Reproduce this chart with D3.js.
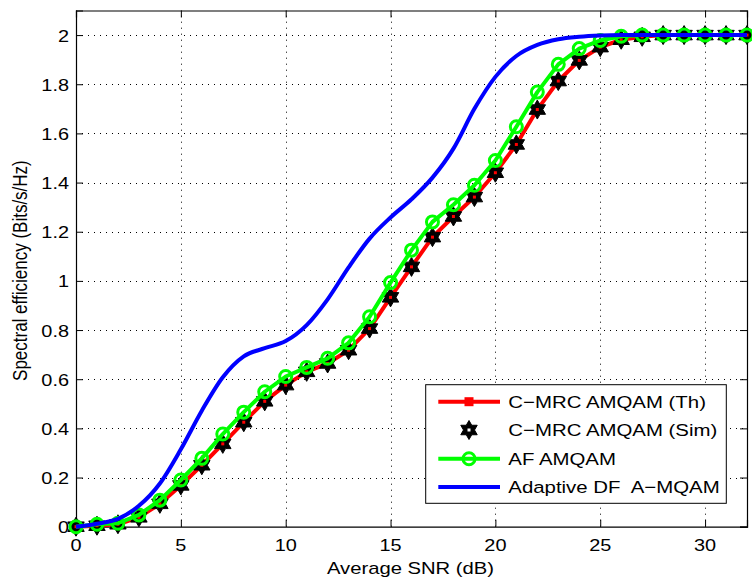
<!DOCTYPE html>
<html><head><meta charset="utf-8">
<script src="https://cdn.jsdelivr.net/npm/d3@7"></script>
<style>
body{margin:0;background:#fff}
text{font-family:"Liberation Sans",Arial,Helvetica,sans-serif;fill:#000}
</style>
</head><body>
<svg id="chart" width="752" height="581"></svg>
<script>
// ---------- data ----------
const snr = d3.range(0, 33);
const thValues  = [0,0.004,0.01,0.038,0.093,0.168,0.25,0.337,0.425,0.51,0.576,0.63,0.664,0.718,0.806,0.933,1.057,1.178,1.262,1.341,1.44,1.555,1.697,1.813,1.897,1.951,1.981,1.993,2,2,2,2,2];
const simValues = [0,0.004,0.01,0.038,0.093,0.168,0.25,0.337,0.425,0.51,0.576,0.63,0.664,0.718,0.806,0.933,1.057,1.178,1.262,1.341,1.44,1.555,1.697,1.813,1.897,1.951,1.981,1.993,2,2,2,2,2];
const afValues  = [0,0.01,0.014,0.048,0.108,0.19,0.278,0.377,0.466,0.549,0.611,0.648,0.685,0.748,0.854,0.993,1.125,1.24,1.31,1.389,1.49,1.627,1.768,1.881,1.945,1.978,1.995,2,2,2,2,2,2];
const dfValues  = [0,0.012,0.032,0.085,0.176,0.315,0.472,0.608,0.693,0.726,0.755,0.82,0.925,1.055,1.172,1.258,1.332,1.42,1.538,1.70,1.83,1.915,1.96,1.983,1.993,1.998,2,2,2,2,2,2,2];
const xTicks = [0,5,10,15,20,25,30];
const yTicks = [0,0.2,0.4,0.6,0.8,1,1.2,1.4,1.6,1.8,2];
const legendLabels = ["C\u2212MRC AMQAM (Th)","C\u2212MRC AMQAM (Sim)","AF AMQAM","Adaptive DF  A\u2212MQAM"];
const xLabel = "Average SNR (dB)";
const yLabel = "Spectral efficiency (Bits/s/Hz)";

// ---------- layout ----------
const L = 76, R = 747, T = 10.5, B = 526.7;
const FS = 17, SX = 1.17;
const svg = d3.select("#chart");
const x = d3.scaleLinear().domain([0, 32]).range([L, R]);
const y = d3.scaleLinear().domain([0, 2.1]).range([B, T]);

// grid
const grid = svg.append("g").attr("stroke", "#000").attr("stroke-width", 1).attr("stroke-dasharray", "1,5");
grid.selectAll("line.gx").data(xTicks.filter(d => d > 0)).join("line")
  .attr("x1", d => Math.round(x(d)) + 0.5).attr("x2", d => Math.round(x(d)) + 0.5)
  .attr("y1", B).attr("y2", T);
grid.selectAll("line.gy").data(yTicks.filter(d => d > 0)).join("line")
  .attr("y1", d => Math.round(y(d)) + 0.5).attr("y2", d => Math.round(y(d)) + 0.5)
  .attr("x1", L).attr("x2", R);

// axes (MATLAB style: inward ticks on all sides), labels drawn separately
const axB = svg.append("g").attr("transform", `translate(0,${B})`)
  .call(d3.axisBottom(x).tickValues(xTicks).tickSize(-7).tickFormat(""));
const axT = svg.append("g").attr("transform", `translate(0,${T})`)
  .call(d3.axisTop(x).tickValues(xTicks).tickSize(-7).tickFormat(""));
const axL = svg.append("g").attr("transform", `translate(${L},0)`)
  .call(d3.axisLeft(y).tickValues(yTicks).tickSize(-7).tickFormat(""));
const axR = svg.append("g").attr("transform", `translate(${R},0)`)
  .call(d3.axisRight(y).tickValues(yTicks).tickSize(-7).tickFormat(""));
[axB, axT, axL, axR].forEach(a => {
  a.select(".domain").attr("stroke", "#000").attr("stroke-width", 1.2);
  a.selectAll(".tick line").attr("stroke", "#000");
});
const fmtY = d => String(+d.toFixed(1));
svg.append("g").selectAll("text").data(xTicks).join("text")
  .attr("transform", d => `translate(${x(d)},${B + 24}) scale(${SX},1)`)
  .attr("text-anchor", "middle").attr("font-size", FS).text(d => d);
svg.append("g").selectAll("text").data(yTicks).join("text")
  .attr("transform", d => `translate(${L - 7},${y(d) + 6.5}) scale(${SX},1)`)
  .attr("text-anchor", "end").attr("font-size", FS).text(fmtY);

// ---------- series ----------
const lineGen = d3.line().x((d, i) => x(snr[i])).y(d => y(d));
const smooth = d3.line().x((d, i) => x(snr[i])).y(d => y(d)).curve(d3.curveMonotoneX);

function hexagram(r) {
  const pts = [];
  for (let i = 0; i < 12; i++) {
    const a = -Math.PI / 2 + i * Math.PI / 6;
    const rr = i % 2 === 0 ? r : r / Math.sqrt(3);
    pts.push([rr * Math.cos(a), rr * Math.sin(a)]);
  }
  return "M" + pts.map(p => p.join(",")).join("L") + "Z";
}

// C-MRC Th (red, squares)
svg.append("path").datum(thValues).attr("d", lineGen)
  .attr("fill", "none").attr("stroke", "#ff0000").attr("stroke-width", 4).attr("stroke-linejoin", "round");
svg.append("g").selectAll("rect").data(thValues).join("rect")
  .attr("x", (d, i) => x(snr[i]) - 4).attr("y", d => y(d) - 4)
  .attr("width", 8).attr("height", 8).attr("fill", "#ff0000");

// C-MRC Sim (black hexagrams)
const simG = svg.append("g");
simG.selectAll("path").data(simValues).join("path")
  .attr("d", hexagram(9.5))
  .attr("transform", (d, i) => `translate(${x(snr[i])},${y(d)})`)
  .attr("fill", "#000").attr("stroke", "#000").attr("stroke-width", 1).attr("stroke-linejoin", "miter");
simG.selectAll("rect").data(simValues).join("rect")
  .attr("x", (d, i) => x(snr[i]) - 1.5).attr("y", d => y(d) - 1.5)
  .attr("width", 3).attr("height", 3).attr("fill", "#ff0000");

// AF (green, circles)
svg.append("path").datum(afValues).attr("d", lineGen)
  .attr("fill", "none").attr("stroke", "#00ff00").attr("stroke-width", 4).attr("stroke-linejoin", "round");
svg.append("g").selectAll("circle").data(afValues).join("circle")
  .attr("cx", (d, i) => x(snr[i])).attr("cy", d => y(d)).attr("r", 6)
  .attr("fill", "none").attr("stroke", "#00ff00").attr("stroke-width", 3);

// Adaptive DF (blue)
svg.append("path").datum(dfValues).attr("d", smooth)
  .attr("fill", "none").attr("stroke", "#0000ff").attr("stroke-width", 4);

// ---------- legend ----------
const lg = svg.append("g");
const lx0 = 425.7, ly0 = 384.7, lw = 300.6, lh = 118.6;
lg.append("rect").attr("x", lx0).attr("y", ly0).attr("width", lw).attr("height", lh)
  .attr("fill", "#fff").attr("stroke", "#000").attr("stroke-width", 1);
const rowY = [401.7, 430, 458.7, 487];
const sx1 = 438.3, sx2 = 500, sm = 469;
// Th
lg.append("line").attr("x1", sx1).attr("x2", sx2).attr("y1", rowY[0]).attr("y2", rowY[0]).attr("stroke", "#ff0000").attr("stroke-width", 4);
lg.append("rect").attr("x", sm - 4.5).attr("y", rowY[0] - 4.5).attr("width", 9).attr("height", 9).attr("fill", "#ff0000");
// Sim
lg.append("path").attr("d", hexagram(9.5)).attr("transform", `translate(${sm},${rowY[1]})`).attr("fill", "#000").attr("stroke", "#000");
lg.append("rect").attr("x", sm - 1.5).attr("y", rowY[1] - 1.5).attr("width", 3).attr("height", 3).attr("fill", "#fff");
// AF
lg.append("line").attr("x1", sx1).attr("x2", sx2).attr("y1", rowY[2]).attr("y2", rowY[2]).attr("stroke", "#00ff00").attr("stroke-width", 4);
lg.append("circle").attr("cx", sm).attr("cy", rowY[2]).attr("r", 6).attr("fill", "none").attr("stroke", "#00ff00").attr("stroke-width", 3);
// DF
lg.append("line").attr("x1", sx1).attr("x2", sx2).attr("y1", rowY[3]).attr("y2", rowY[3]).attr("stroke", "#0000ff").attr("stroke-width", 4);
lg.selectAll("text").data(legendLabels).join("text")
  .attr("transform", (d, i) => `translate(508.3,${rowY[i] + 6.2}) scale(1.2,1)`)
  .attr("font-size", FS).attr("xml:space", "preserve").style("white-space", "pre").text(d => d);

// ---------- axis labels ----------
svg.append("text").attr("transform", `translate(${(L + R) / 2 - 1},574) scale(1.19,1)`)
  .attr("text-anchor", "middle").attr("font-size", FS).text(xLabel);
svg.append("text").attr("transform", `translate(27,${(T + B) / 2 + 2}) rotate(-90) scale(1,1.17)`)
  .attr("text-anchor", "middle").attr("font-size", FS).text(yLabel);
</script>
</body></html>
